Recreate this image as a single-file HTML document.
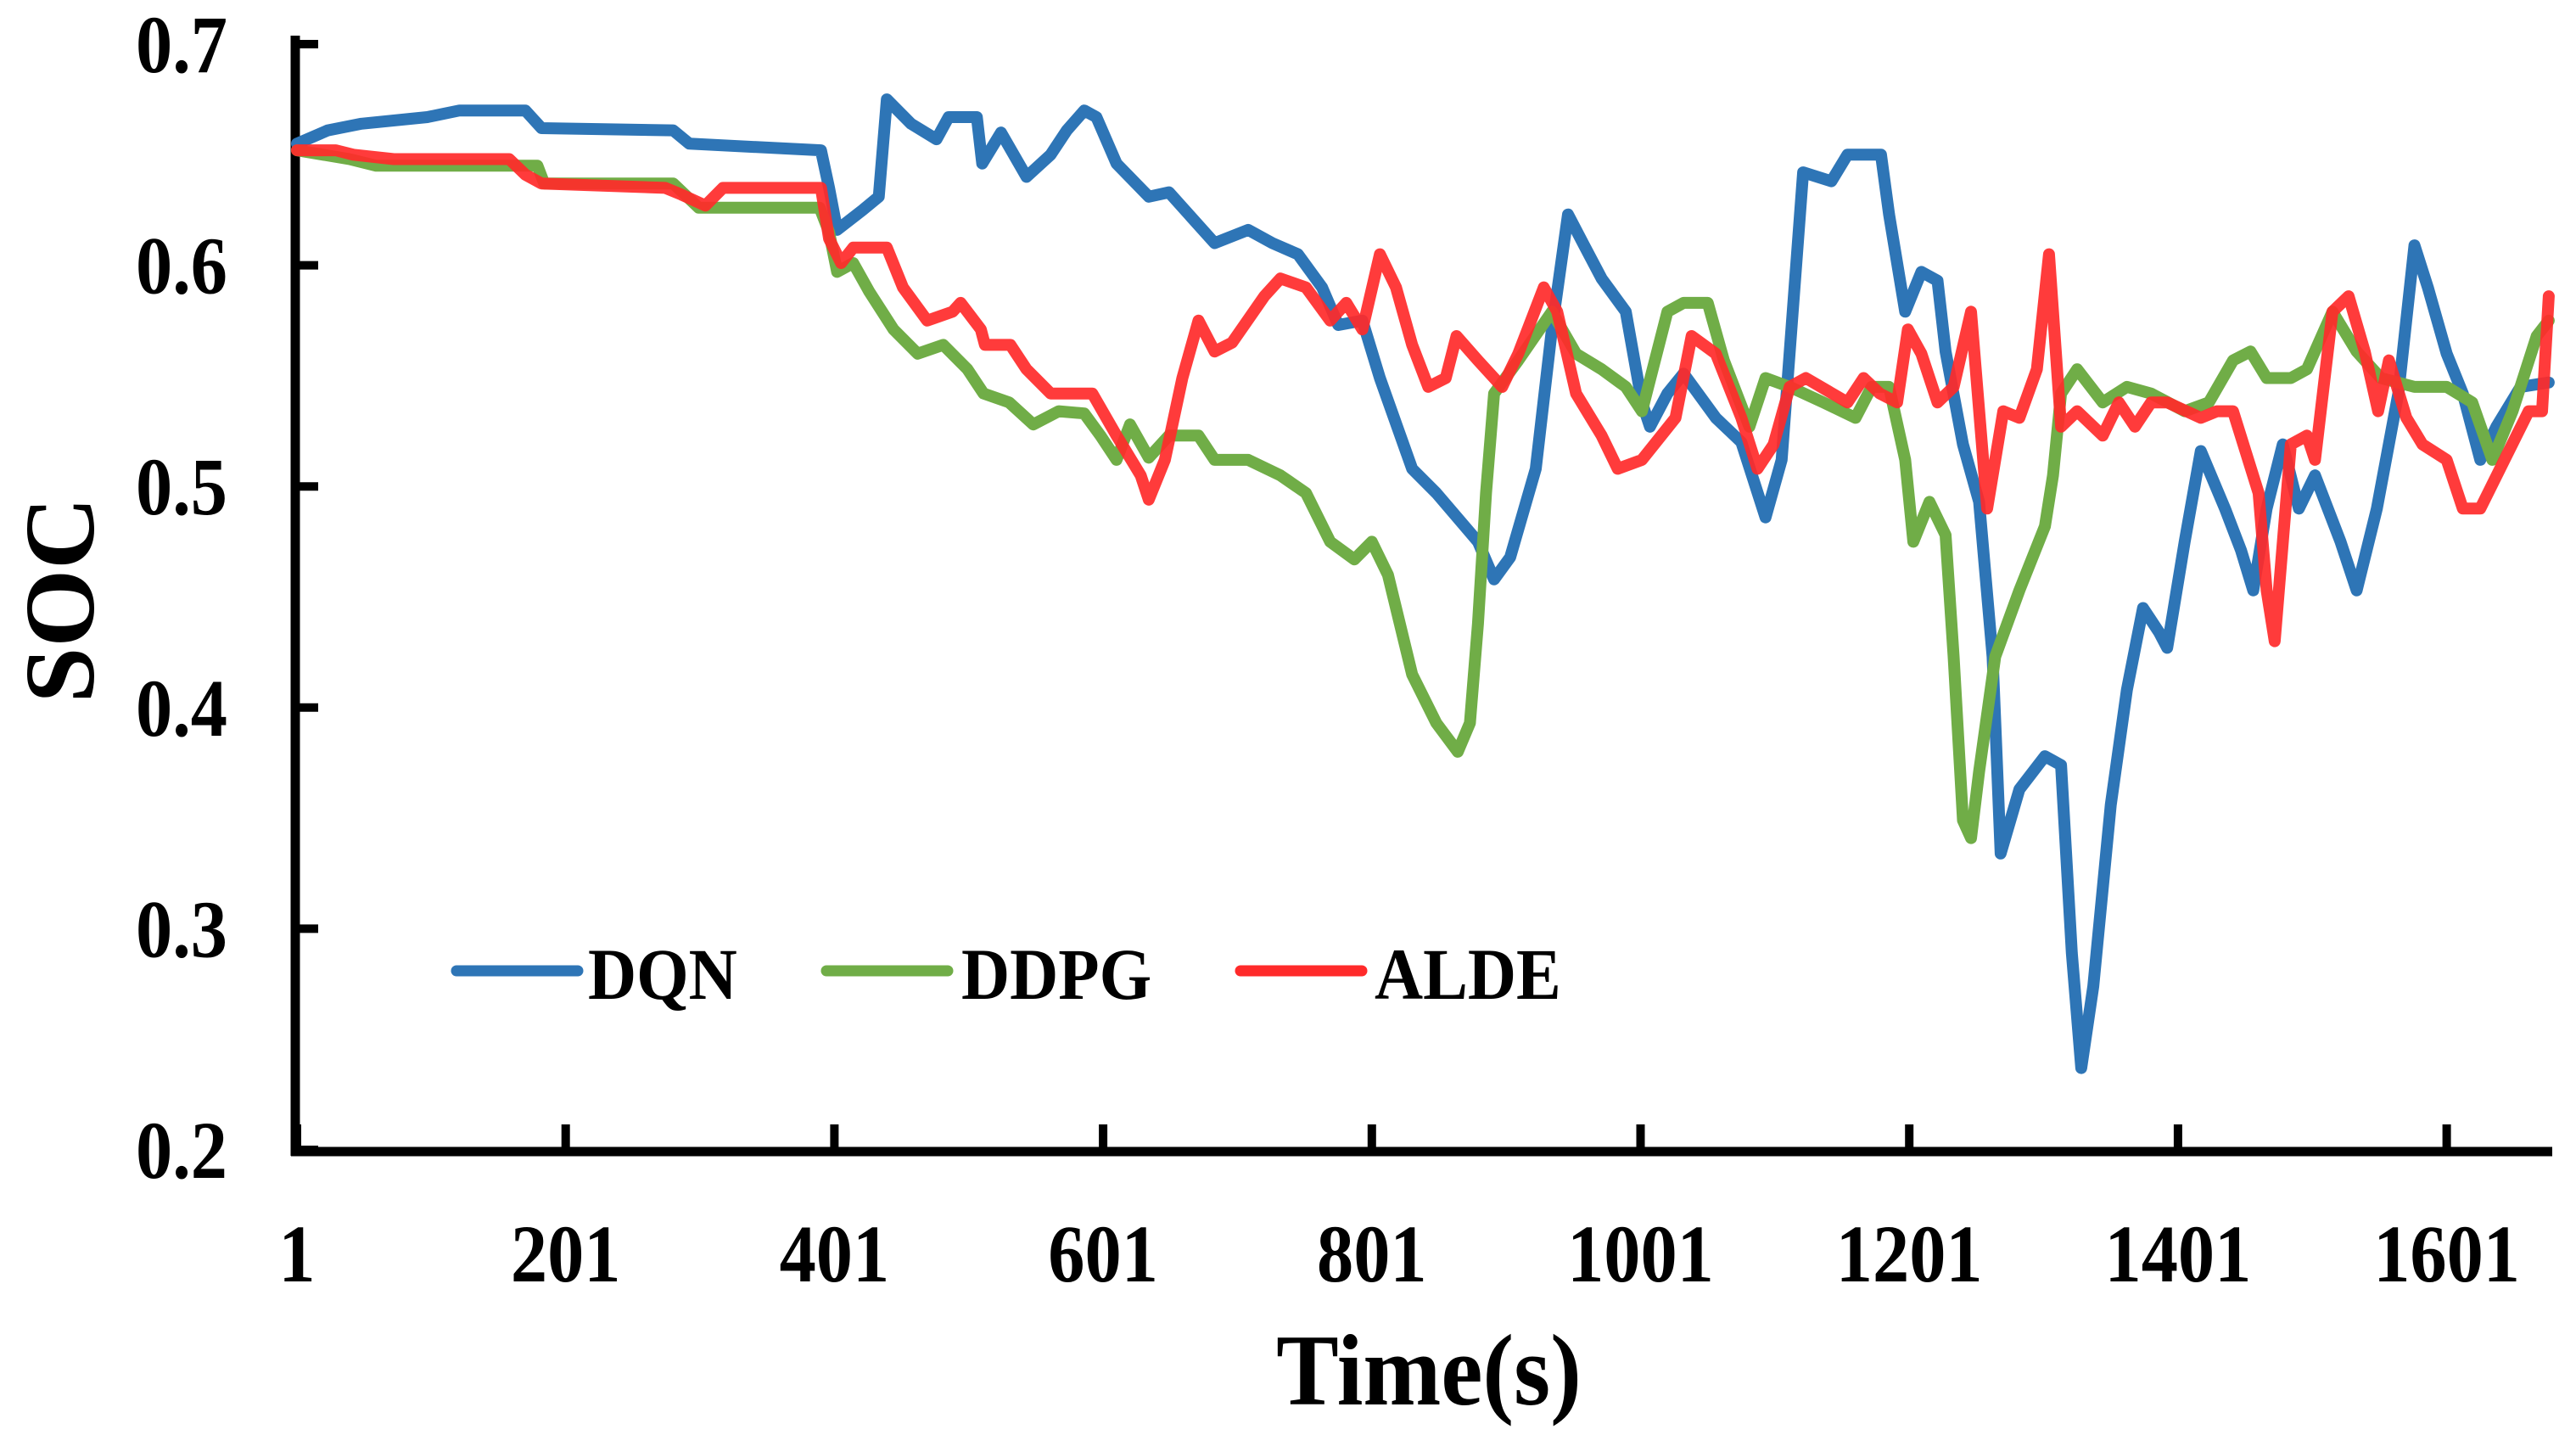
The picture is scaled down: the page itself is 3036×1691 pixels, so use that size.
<!DOCTYPE html>
<html><head><meta charset="utf-8"><style>
html,body{margin:0;padding:0;background:#fff;}
svg{display:block;}
text{font-family:"Liberation Serif",serif;font-weight:bold;fill:#000;}
</style></head><body>
<svg id="chart" width="3036" height="1691" viewBox="0 0 3036 1691" xmlns="http://www.w3.org/2000/svg">
<g id="axes"></g>
<g id="series"></g>
<g id="legend"></g>
</svg>
<script>
const yTicks = [0.2,0.3,0.4,0.5,0.6,0.7];
const yTickLabels = ["0.2","0.3","0.4","0.5","0.6","0.7"];
const xTicks = [1,201,401,601,801,1001,1201,1401,1601];
const xTickLabels = ["1","201","401","601","801","1001","1201","1401","1601"];
const dqnT = [1,24,49,98,122,171,183,281,293,391,397,403,422,434,440,458,477,486,507,511,525,544,562,574,587,596,611,635,650,684,709,727,746,764,776,794,807,831,849,880,892,904,923,935,947,959,972,990,1002,1008,1021,1033,1057,1076,1094,1106,1122,1143,1155,1180,1186,1198,1210,1222,1228,1241,1253,1263,1269,1283,1302,1314,1322,1329,1338,1351,1363,1375,1387,1393,1406,1418,1436,1448,1457,1467,1479,1491,1503,1522,1534,1549,1565,1577,1587,1601,1613,1626,1638,1656,1677];
const dqnV = [.655,.661,.664,.667,.670,.670,.662,.661,.655,.652,.635,.616,.625,.631,.675,.664,.657,.667,.667,.646,.660,.640,.650,.661,.670,.667,.646,.631,.633,.610,.616,.610,.605,.590,.573,.575,.549,.508,.497,.475,.458,.468,.508,.571,.623,.609,.594,.579,.538,.527,.542,.551,.531,.520,.486,.512,.642,.638,.650,.650,.623,.579,.597,.593,.561,.519,.493,.423,.334,.363,.378,.374,.289,.237,.274,.356,.408,.445,.434,.427,.475,.516,.490,.471,.453,.490,.519,.490,.505,.475,.453,.490,.542,.609,.590,.560,.542,.512,.527,.545,.547];
const ddpgT = [1,40,60,180,185,281,300,390,397,403,415,427,445,463,482,500,512,531,549,568,587,599,611,621,635,650,672,684,709,733,752,770,788,801,813,831,849,865,874,880,886,892,910,935,953,972,990,1002,1021,1033,1051,1063,1082,1094,1112,1137,1161,1173,1186,1198,1204,1216,1228,1234,1241,1247,1253,1265,1283,1302,1308,1314,1326,1345,1363,1381,1406,1424,1442,1455,1467,1485,1497,1516,1534,1552,1577,1601,1620,1635,1650,1668,1677];
const ddpgV = [.652,.648,.645,.645,.637,.637,.626,.626,.615,.597,.601,.588,.571,.560,.564,.553,.542,.538,.528,.534,.533,.523,.512,.528,.513,.523,.523,.512,.512,.505,.497,.475,.467,.475,.460,.415,.393,.380,.393,.438,.497,.542,.557,.579,.560,.553,.545,.534,.579,.583,.583,.557,.527,.549,.545,.538,.531,.545,.545,.512,.475,.493,.478,.423,.349,.341,.371,.423,.453,.482,.505,.542,.553,.538,.545,.542,.534,.538,.557,.561,.549,.549,.553,.579,.561,.549,.545,.545,.538,.512,.534,.568,.575];
const aldeT = [1,30,43,73,159,171,183,275,287,305,318,391,397,406,415,440,452,470,489,495,510,513,532,544,562,593,611,629,635,647,660,672,684,697,721,733,752,770,782,794,807,819,831,843,856,864,880,898,910,929,939,953,972,984,1002,1027,1039,1057,1076,1088,1100,1112,1124,1155,1167,1179,1192,1200,1210,1222,1234,1247,1259,1271,1283,1296,1305,1314,1326,1345,1357,1369,1381,1393,1418,1430,1442,1461,1467,1473,1485,1497,1503,1516,1528,1540,1550,1558,1571,1583,1601,1613,1626,1644,1662,1672,1677];
const aldeV = [.652,.652,.650,.648,.648,.641,.637,.635,.632,.627,.635,.635,.612,.601,.608,.608,.590,.575,.579,.583,.571,.564,.564,.553,.542,.542,.523,.505,.494,.512,.549,.575,.561,.565,.586,.594,.590,.575,.583,.571,.605,.590,.564,.545,.549,.568,.557,.545,.560,.590,.579,.542,.523,.508,.512,.531,.568,.560,.531,.508,.519,.545,.549,.538,.549,.542,.538,.571,.560,.538,.545,.579,.490,.534,.531,.553,.605,.527,.534,.523,.538,.527,.538,.538,.531,.534,.534,.497,.453,.430,.519,.523,.512,.579,.586,.561,.534,.557,.531,.519,.512,.490,.490,.512,.534,.534,.586];

const NS="http://www.w3.org/2000/svg";
const X0=350, XPER=316.7/200, Y0=1355, YPER=2606;
function xPx(t){return X0+(t-1)*XPER;}
function yPx(v){return Y0-(v-0.2)*YPER;}
function mk(tag,attrs,parent){const e=document.createElementNS(NS,tag);for(const k in attrs)e.setAttribute(k,attrs[k]);parent.appendChild(e);return e;}
const axes=document.getElementById('axes');
const series=document.getElementById('series');
const legend=document.getElementById('legend');

let e;
e=mk('line',{x1:348,y1:42,x2:348,y2:1362,stroke:'#000','stroke-width':11},axes);


e=mk('line',{x1:343,y1:1357,x2:3008,y2:1357,stroke:'#000','stroke-width':11},axes);



yTicks.forEach((v,i)=>{
  const y=yPx(v);
  let t=mk('line',{x1:348,y1:y,x2:375,y2:y,stroke:'#000','stroke-width':10},axes);
  
  
  let l=mk('text',{x:268,y:y+33,'text-anchor':'end','font-size':96,transform:'translate(268,0) scale(0.9,1) translate(-268,0)'},axes);
  l.textContent=yTickLabels[i];
  
  
});
xTicks.forEach((v,i)=>{
  const x=xPx(v);
  let t=mk('line',{x1:x,y1:1357,x2:x,y2:1325,stroke:'#000','stroke-width':10},axes);
  
  
  let l=mk('text',{x:x,y:1510,'text-anchor':'middle','font-size':96,transform:'translate('+x+',0) scale(0.9,1) translate('+(-x)+',0)'},axes);
  l.textContent=xTickLabels[i];
  
  
});
e=mk('text',{x:1684,y:1655,'text-anchor':'middle','font-size':120,transform:'translate(1684,0) scale(0.92,1) translate(-1684,0)'},axes);
e.textContent='Time(s)';


e=mk('text',{x:0,y:0,'text-anchor':'middle','font-size':118,transform:'translate(110,707) rotate(-90)'},axes);
e.textContent='SOC';



function drawLine(T,V,color,name,op){
  const n=Math.min(T.length,V.length);
  let d='';
  for(let i=0;i<n;i++){d+=(i?'L':'M')+xPx(T[i]).toFixed(1)+','+yPx(V[i]).toFixed(1);}
  const p=mk('path',{d:d,fill:'none',stroke:color,'stroke-width':14,'stroke-linejoin':'round','stroke-linecap':'round',opacity:op},series);
  
  
}
drawLine(dqnT,dqnV,'#2E75B6','dqn-line',1);
drawLine(ddpgT,ddpgV,'#70AD47','ddpg-line',1);
drawLine(aldeT,aldeV,'#FF2A2A','alde-line',0.92);

const legItems=[['DQN','#2E75B6',538,693],['DDPG','#70AD47',974,1133],['ALDE','#FF2A2A',1462,1620]];
legItems.forEach(it=>{
  let l=mk('line',{x1:it[2],y1:1144,x2:it[2]+143,y2:1144,stroke:it[1],'stroke-width':13,'stroke-linecap':'round'},legend);
  
  
  let t=mk('text',{x:it[3],y:1177,'font-size':86,transform:'translate('+it[3]+',0) scale(0.92,1) translate('+(-it[3])+',0)'},legend);
  t.textContent=it[0];
  
  
});
</script>
</body></html>
